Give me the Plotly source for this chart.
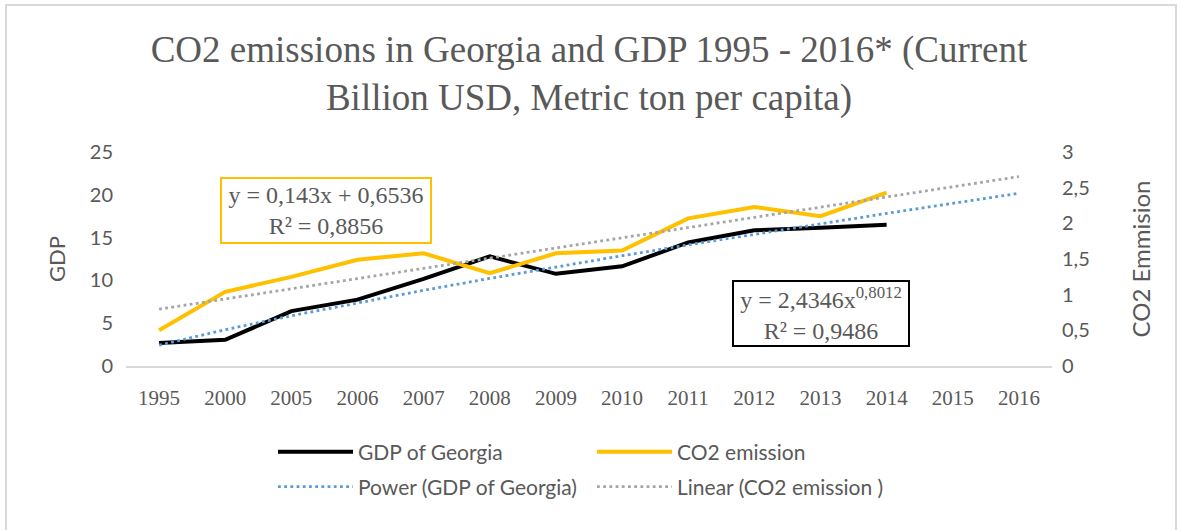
import numpy as np
import plotly.graph_objects as go

# Categories and series
years = ["1995", "2000", "2005", "2006", "2007", "2008", "2009",
         "2010", "2011", "2012", "2013", "2014", "2015", "2016"]
gdp = [2.69, 3.06, 6.41, 7.75, 10.17, 12.8, 10.77,
       11.64, 14.43, 15.85, 16.14, 16.51, None, None]
co2 = [0.50, 1.04, 1.25, 1.49, 1.58, 1.30, 1.58,
       1.62, 2.07, 2.23, 2.10, 2.43, None, None]

# Trendline coefficients (x = category index 1..14)
lin_slope, lin_intercept, lin_r2 = 0.143, 0.6536, 0.8856
pow_coef, pow_exp, pow_r2 = 2.4346, 0.8012, 0.9486

idx = np.arange(1, len(years) + 1)
power_trend = pow_coef * idx ** pow_exp
linear_trend = lin_slope * idx + lin_intercept

GREY_TXT = "#595959"
SANS = "Lato"
SERIF = "Liberation Serif"

fig = go.Figure()
fig.add_trace(go.Scatter(x=years, y=gdp, name="GDP of Georgia", mode="lines",
                         line=dict(color="#000000", width=4),
                         legend="legend", yaxis="y"))
fig.add_trace(go.Scatter(x=years, y=power_trend, name="Power (GDP of Georgia)", mode="lines",
                         line=dict(color="#5B9BD5", width=2.8, dash="2.8px,3.4px"),
                         legend="legend2", yaxis="y"))
fig.add_trace(go.Scatter(x=years, y=co2, name="CO2 emission", mode="lines",
                         line=dict(color="#FFC000", width=4),
                         legend="legend", yaxis="y2"))
fig.add_trace(go.Scatter(x=years, y=linear_trend, name="Linear (CO2 emission )", mode="lines",
                         line=dict(color="#A5A5A5", width=2.8, dash="2.8px,3.4px"),
                         legend="legend2", yaxis="y2"))

W, H = 1178, 530
L, R, T, B = 126, 126, 152, 164
pw, ph = W - L - R, H - T - B


def px_x(p):
    return (p - L) / pw


def px_y(p):
    return (H - B - p) / ph


legend_common = dict(orientation="h", xanchor="left", yanchor="middle",
                     font=dict(family=SANS, size=21, color=GREY_TXT),
                     itemwidth=75, entrywidth=229, traceorder="normal",
                     bgcolor="rgba(0,0,0,0)")

fig.update_layout(
    width=W, height=H,
    margin=dict(l=L, r=R, t=T, b=B),
    paper_bgcolor="white", plot_bgcolor="white",
    separators=",.",
    title=dict(text="CO2 emissions in Georgia and GDP 1995 - 2016* (Current<br>Billion USD, Metric ton per capita)",
               x=0.5, xanchor="center", y=1 - 62 / H, yanchor="middle",
               font=dict(family=SERIF, size=37, color=GREY_TXT)),
    xaxis=dict(type="category", range=[-0.5, len(years) - 0.5],
               showgrid=False, showline=True, linecolor="#D9D9D9", linewidth=1.5,
               ticks="", ticklabelstandoff=12,
               tickfont=dict(family=SERIF, size=21, color=GREY_TXT),
               zeroline=False),
    yaxis=dict(range=[0, 25], dtick=5, showgrid=False, zeroline=False,
               ticks="", ticklabelstandoff=12,
               tickfont=dict(family=SANS, size=20, color=GREY_TXT),
               title=dict(text="GDP", standoff=18,
                          font=dict(family=SANS, size=22, color=GREY_TXT))),
    yaxis2=dict(range=[0, 3], dtick=0.5, overlaying="y", side="right",
                showgrid=False, zeroline=False, ticks="", ticklabelstandoff=9,
                tickfont=dict(family=SANS, size=20, color=GREY_TXT),
                title=dict(text="CO2 Emmision", standoff=44,
                           font=dict(family=SANS, size=24, color=GREY_TXT))),
    legend=dict(x=px_x(273), y=px_y(452), **legend_common),
    legend2=dict(x=px_x(273), y=px_y(487), **legend_common),
    showlegend=True,
)

# Trendline equation boxes
fig.add_annotation(xref="paper", yref="paper", x=px_x(326), y=px_y(210),
                   xanchor="center", yanchor="middle", showarrow=False,
                   text=f"y = {lin_slope:.3f}x + {lin_intercept:.4f}".replace(".", ",")
                        + "<br>" + f"R² = {lin_r2:.4f}".replace(".", ","),
                   font=dict(family=SERIF, size=24, color=GREY_TXT),
                   bordercolor="#FFC000", borderwidth=2, borderpad=2,
                   width=204, height=59, bgcolor="white")
fig.add_annotation(xref="paper", yref="paper", x=px_x(821), y=px_y(313),
                   xanchor="center", yanchor="middle", showarrow=False,
                   text=f"y = {pow_coef:.4f}x".replace(".", ",")
                        + f"<sup>{pow_exp:.4f}</sup>".replace(".", ",")
                        + "<br>" + f"R² = {pow_r2:.4f}".replace(".", ","),
                   font=dict(family=SERIF, size=24, color=GREY_TXT),
                   bordercolor="#000000", borderwidth=2, borderpad=2,
                   width=170, height=59, bgcolor="white")

# Outer chart frame
fig.add_shape(type="rect", xref="paper", yref="paper",
              x0=px_x(6), x1=px_x(1176), y0=px_y(540), y1=px_y(5),
              line=dict(color="#D9D9D9", width=2), fillcolor="rgba(0,0,0,0)",
              layer="below")

fig.write_html("out.html")
